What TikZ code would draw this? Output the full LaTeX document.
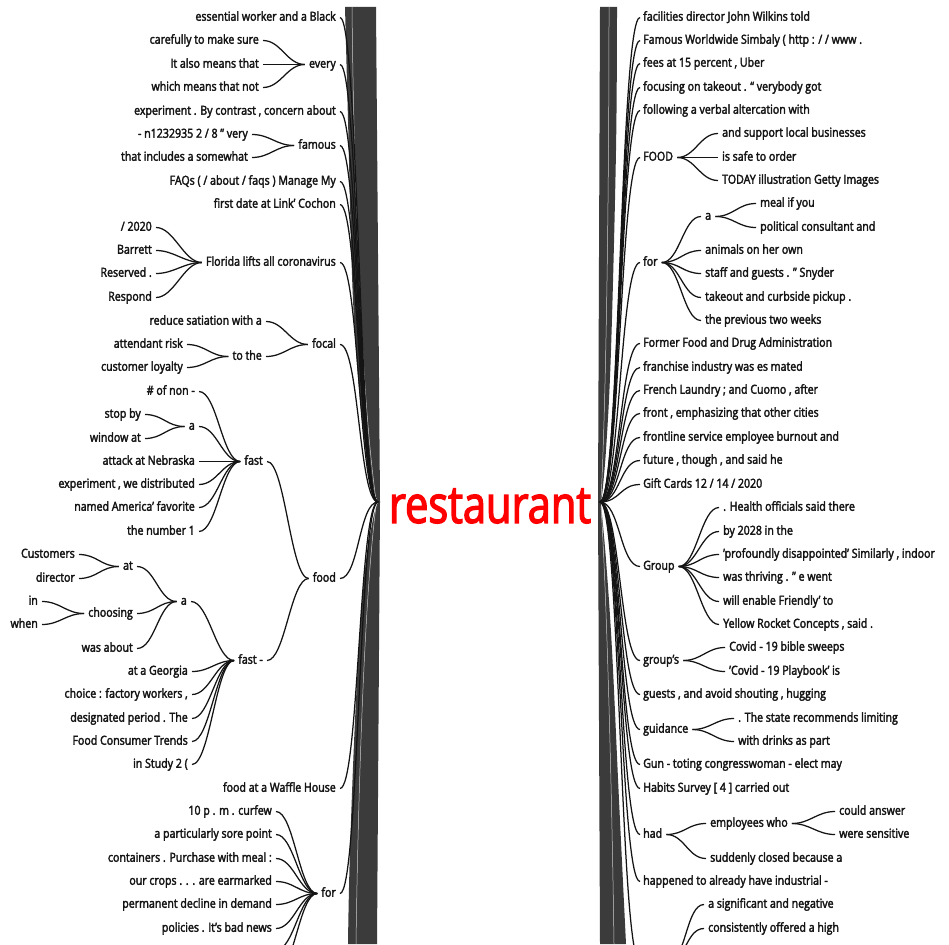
\documentclass[tikz,border=0pt]{standalone}
\usepackage{fontspec}
\setmainfont{Open Sans}[FakeStretch=0.85, FakeBold=2.5]
\newfontfamily\rootfont{Open Sans}[FakeStretch=0.8, FakeBold=2.5]
\definecolor{bandgray}{HTML}{3B3B3B}
\definecolor{txt}{HTML}{141414}
\newcommand\mylnk[2]{\draw[link] ([xshift=-4]#1.west) .. controls +(-18,0) and +(18,0) .. ([xshift=4]#2.east);}
\newcommand\myrnk[2]{\draw[link] ([xshift=4]#1.east) .. controls +(18,0) and +(-18,0) .. ([xshift=-4]#2.west);}
\newcommand\rootl[1]{\draw[link] (rl) .. controls +(-19,0) and +(19,0) .. ([xshift=4]#1.east);}
\newcommand\rootr[1]{\draw[link] (rr) .. controls +(20,0) and +(-20,0) .. ([xshift=-3]#1.west);}
\begin{document}
\begin{tikzpicture}[x=1pt,y=-1pt,
  lbl/.style={font=\fontsize{12.5}{14}\selectfont, text=txt, inner sep=0pt, text height=9pt, text depth=2.5pt, yshift=-1.5pt},
  L/.style={lbl, anchor=east},
  R/.style={lbl, anchor=west},
  link/.style={draw=black!92, line width=1.25pt},
  band/.style={fill=bandgray}]
\useasboundingbox (0,0) rectangle (949,944);
\clip (0,0) rectangle (949,944);
\fill[white] (0,0) rectangle (949,944);

% root
\coordinate (rl) at (378,502);
\coordinate (rr) at (600,502);
\node[text=red, font=\rootfont\fontsize{52}{52}\selectfont, inner sep=0pt] (root) at (490,506) {restaurant};

% bands
\fill[band] plot[smooth, tension=0.6] coordinates {(345,7) (348,120) (353,300) (362,420) (372,482) (378,502)}
  -- plot[smooth, tension=0.6] coordinates {(378,502) (372,524) (364,580) (356,700) (350,850) (348,944)}
  -- (377,944) -- (380,502) -- (376,7) -- cycle;
\fill[band] (600,7) -- (598,502) -- (600,944)
  -- plot[smooth, tension=0.6] coordinates {(626,944) (619,800) (612,650) (606,560) (601,505)}
  -- plot[smooth, tension=0.6] coordinates {(601,505) (606,450) (611,350) (616,150) (617,7)} -- cycle;
\draw[white!75!bandgray, line width=0.5pt] (352,7) .. controls (354,200) and (362,400) .. (376,500);
\draw[white!75!bandgray, line width=0.5pt] (356,944) .. controls (358,800) and (364,600) .. (376,506);
\draw[white!75!bandgray, line width=0.5pt] (609,7) .. controls (609,200) and (606,400) .. (601,500);
\draw[white!75!bandgray, line width=0.5pt] (614,944) .. controls (612,800) and (607,600) .. (601,506);

% ---------------- left side ----------------
\node[L] (l1) at (336,16) {essential worker and a Black};
\node[L] (l2) at (336,63) {every};
\node[L] (l3) at (336,110) {experiment . By contrast , concern about};
\node[L] (l4) at (336,144) {famous};
\node[L] (l5) at (336,180) {FAQs ( / about / faqs ) Manage My};
\node[L] (l6) at (336,203) {first date at Link’ Cochon};
\node[L] (l7) at (336,261) {Florida lifts all coronavirus};
\node[L] (l8) at (336,343) {focal};
\node[L] (l9) at (336,577) {food};
\node[L] (l10) at (336,787) {food at a Waffle House};
\node[L] (l11) at (336,892) {for};
\foreach \n in {l1,l2,l3,l4,l5,l6,l7,l8,l9,l10,l11} {\rootl{\n}}

\node[L] (l2a) at (259,39) {carefully to make sure};
\node[L] (l2b) at (259,63) {It also means that};
\node[L] (l2c) at (259,86) {which means that not};
\foreach \n in {l2a,l2b,l2c} {\mylnk{l2}{\n}}

\node[L] (l4a) at (248,133) {- n1232935 2 / 8 ” very};
\node[L] (l4b) at (248,156) {that includes a somewhat};
\foreach \n in {l4a,l4b} {\mylnk{l4}{\n}}

\node[L] (l7a) at (152,226) {/ 2020};
\node[L] (l7b) at (152,249) {Barrett};
\node[L] (l7c) at (152,272) {Reserved .};
\node[L] (l7d) at (152,296) {Respond};
\foreach \n in {l7a,l7b,l7c,l7d} {\mylnk{l7}{\n}}

\node[L] (l8a) at (262,320) {reduce satiation with a};
\node[L] (l8b) at (262,355) {to the};
\foreach \n in {l8a,l8b} {\mylnk{l8}{\n}}
\node[L] (l8b1) at (183,343) {attendant risk};
\node[L] (l8b2) at (183,366) {customer loyalty};
\foreach \n in {l8b1,l8b2} {\mylnk{l8b}{\n}}

\node[L] (fa) at (263,460) {fast};
\node[L] (fb) at (263,659) {fast -};
\foreach \n in {fa,fb} {\mylnk{l9}{\n}}

\node[L] (fa1) at (195,390) {\# of non -};
\node[L] (fa2) at (195,425) {a};
\node[L] (fa3) at (195,460) {attack at Nebraska};
\node[L] (fa4) at (195,483) {experiment , we distributed};
\node[L] (fa5) at (195,506) {named America’ favorite};
\node[L] (fa6) at (195,530) {the number 1};
\foreach \n in {fa1,fa2,fa3,fa4,fa5,fa6} {\mylnk{fa}{\n}}
\node[L] (fa2a) at (141,413) {stop by};
\node[L] (fa2b) at (141,437) {window at};
\foreach \n in {fa2a,fa2b} {\mylnk{fa2}{\n}}

\node[L] (fb1) at (187,600) {a};
\node[L] (fb2) at (188,670) {at a Georgia};
\node[L] (fb3) at (188,693) {choice : factory workers ,};
\node[L] (fb4) at (188,717) {designated period . The};
\node[L] (fb5) at (188,740) {Food Consumer Trends};
\node[L] (fb6) at (188,763) {in Study 2 (};
\foreach \n in {fb1,fb2,fb3,fb4,fb5,fb6} {\mylnk{fb}{\n}}

\node[L] (fb1a) at (133,565) {at};
\node[L] (fb1b) at (133,612) {choosing};
\node[L] (fb1c) at (133,647) {was about};
\foreach \n in {fb1a,fb1b,fb1c} {\mylnk{fb1}{\n}}
\node[L] (at1) at (75,553) {Customers};
\node[L] (at2) at (75,577) {director};
\foreach \n in {at1,at2} {\mylnk{fb1a}{\n}}
\node[L] (ch1) at (38,600) {in};
\node[L] (ch2) at (38,623) {when};
\foreach \n in {ch1,ch2} {\mylnk{fb1b}{\n}}

\node[L] (fo1) at (272,810) {10 p . m . curfew};
\node[L] (fo2) at (272,833) {a particularly sore point};
\node[L] (fo3) at (272,857) {containers . Purchase with meal :};
\node[L] (fo4) at (272,880) {our crops . . . are earmarked};
\node[L] (fo5) at (272,903) {permanent decline in demand};
\node[L] (fo6) at (272,927) {policies . It's bad news};
\coordinate (fo7) at (276,950);
\coordinate (fo8) at (276,973);
\foreach \n in {fo1,fo2,fo3,fo4,fo5,fo6} {\mylnk{l11}{\n}}
\draw[link] ([xshift=-4]l11.west) .. controls +(-18,0) and +(18,0) .. (fo7);
\draw[link] ([xshift=-4]l11.west) .. controls +(-18,0) and +(18,0) .. (fo8);

% ---------------- right side ----------------
\node[R] (r1) at (643,16) {facilities director John Wilkins told};
\node[R] (r2) at (643,39) {Famous Worldwide Simbaly ( http : / / www .};
\node[R] (r3) at (643,62) {fees at 15 percent , Uber};
\node[R] (r4) at (643,86) {focusing on takeout . “ verybody got};
\node[R] (r5) at (643,109) {following a verbal altercation with};
\node[R] (r6) at (643,156) {FOOD};
\node[R] (r7) at (643,261) {for};
\node[R] (r8) at (643,342) {Former Food and Drug Administration};
\node[R] (r9) at (643,366) {franchise industry was es mated};
\node[R] (r10) at (643,389) {French Laundry ; and Cuomo , after};
\node[R] (r11) at (643,412) {front , emphasizing that other cities};
\node[R] (r12) at (643,436) {frontline service employee burnout and};
\node[R] (r13) at (643,459) {future , though , and said he};
\node[R] (r14) at (643,483) {Gift Cards 12 / 14 / 2020};
\node[R] (r15) at (643,565) {Group};
\node[R] (r16) at (643,659) {group's};
\node[R] (r17) at (643,693) {guests , and avoid shouting , hugging};
\node[R] (r18) at (643,728) {guidance};
\node[R] (r19) at (643,763) {Gun - toting congresswoman - elect may};
\node[R] (r20) at (643,787) {Habits Survey [ 4 ] carried out};
\node[R] (r21) at (643,833) {had};
\node[R] (r22) at (643,880) {happened to already have industrial -};
\coordinate (r23) at (643,962);
\coordinate (r23e) at (668,962);
\foreach \n in {r1,r2,r3,r4,r5,r6,r7,r8,r9,r10,r11,r12,r13,r14,r15,r16,r17,r18,r19,r20,r21,r22} {\rootr{\n}}
\draw[link] (rr) .. controls +(20,0) and +(-20,0) .. ([xshift=-3]r23);

\node[R] (r6a) at (722,132) {and support local businesses};
\node[R] (r6b) at (722,156) {is safe to order};
\node[R] (r6c) at (722,179) {TODAY illustration Getty Images};
\foreach \n in {r6a,r6b,r6c} {\myrnk{r6}{\n}}

\node[R] (r7a) at (705,215) {a};
\node[R] (r7b) at (705,249) {animals on her own};
\node[R] (r7c) at (705,272) {staff and guests . " Snyder};
\node[R] (r7d) at (705,296) {takeout and curbside pickup .};
\node[R] (r7e) at (705,319) {the previous two weeks};
\foreach \n in {r7a,r7b,r7c,r7d,r7e} {\myrnk{r7}{\n}}
\node[R] (r7a1) at (760,202) {meal if you};
\node[R] (r7a2) at (760,226) {political consultant and};
\foreach \n in {r7a1,r7a2} {\myrnk{r7a}{\n}}

\node[R] (g1) at (723,506) {. Health officials said there};
\node[R] (g2) at (723,530) {by 2028 in the};
\node[R] (g3) at (723,553) {'profoundly disappointed' Similarly , indoor};
\node[R] (g4) at (723,576) {was thriving . " e went};
\node[R] (g5) at (723,600) {will enable Friendly' to};
\node[R] (g6) at (723,623) {Yellow Rocket Concepts , said .};
\foreach \n in {g1,g2,g3,g4,g5,g6} {\myrnk{r15}{\n}}

\node[R] (gs1) at (729,646) {Covid - 19 bible sweeps};
\node[R] (gs2) at (729,670) {'Covid - 19 Playbook' is};
\foreach \n in {gs1,gs2} {\myrnk{r16}{\n}}

\node[R] (gu1) at (738,717) {. The state recommends limiting};
\node[R] (gu2) at (738,740) {with drinks as part};
\foreach \n in {gu1,gu2} {\myrnk{r18}{\n}}

\node[R] (h1) at (710,822) {employees who};
\node[R] (h2) at (710,857) {suddenly closed because a};
\foreach \n in {h1,h2} {\myrnk{r21}{\n}}
\node[R] (h1a) at (839,810) {could answer};
\node[R] (h1b) at (839,833) {were sensitive};
\foreach \n in {h1a,h1b} {\myrnk{h1}{\n}}

\node[R] (s1) at (708,903) {a significant and negative};
\node[R] (s2) at (708,927) {consistently offered a high};
\foreach \n in {s1,s2} {\draw[link] (r23e) .. controls +(18,0) and +(-18,0) .. ([xshift=-4]\n.west);}
\end{tikzpicture}
\end{document}
